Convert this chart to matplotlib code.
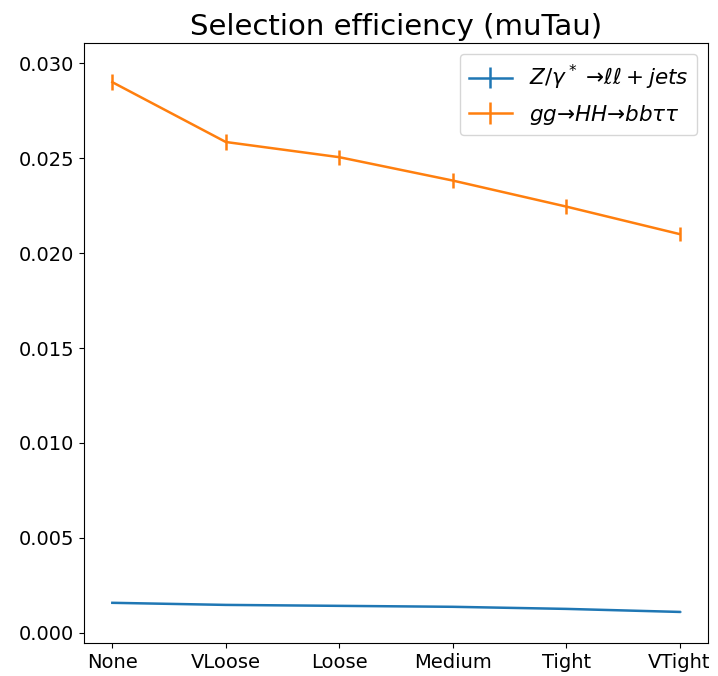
import matplotlib
matplotlib.use("Agg")
import matplotlib.pyplot as plt

categories = ["None", "VLoose", "Loose", "Medium", "Tight", "VTight"]
dy_eff = [0.00158, 0.00147, 0.00142, 0.00137, 0.00126, 0.00110]
dy_err = [0.00003, 0.00003, 0.00003, 0.00003, 0.00003, 0.00003]
hh_eff = [0.0290, 0.02585, 0.02505, 0.02382, 0.02245, 0.0210]
hh_err = [0.00042, 0.00040, 0.00040, 0.00039, 0.00038, 0.00037]

fig = plt.figure(figsize=(7.18, 6.76), dpi=100)
ax = fig.add_axes([0.117, 0.049, 0.869, 0.887])
x = list(range(len(categories)))
ax.errorbar(x, dy_eff, yerr=dy_err, color="#1f77b4", lw=1.8,
            label=r"$Z/\gamma^*$ →$\ell\ell+jets$")
ax.errorbar(x, hh_eff, yerr=hh_err, color="#ff7f0e", lw=1.8,
            label=r"$gg$→$HH$→$bb\tau\tau$")
ax.set_xticks(x)
ax.set_xticklabels(categories)
ax.set_ylim(-0.00053, 0.03105)
ax.tick_params(labelsize=14)
ax.set_title("Selection efficiency (muTau)", fontsize=21)
ax.legend(fontsize=15.5, loc="upper right")
fig.savefig("out.png", dpi=100)
